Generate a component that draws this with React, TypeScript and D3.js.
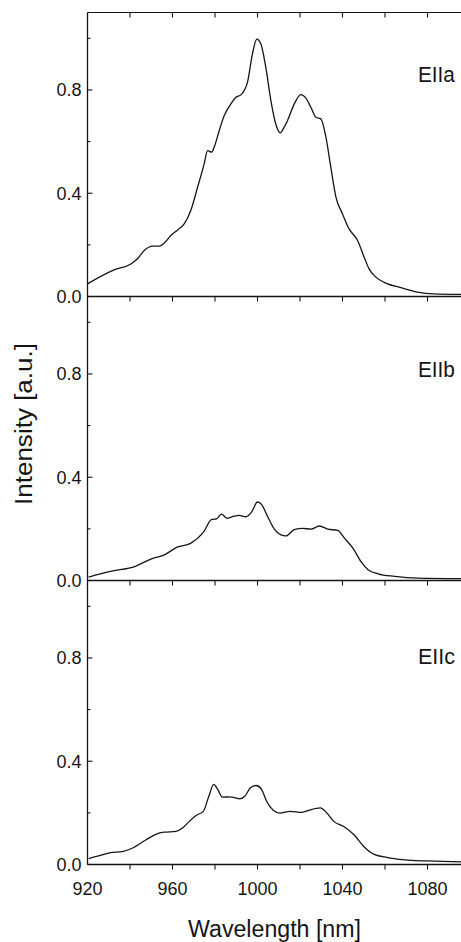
import React from "react";
import * as d3 from "d3";

const xTickValues = [920, 960, 1000, 1040, 1080];
const xMinorTicks = [940, 960, 980, 1000, 1020, 1040, 1060, 1080];
const yTickValues = [0.0, 0.4, 0.8];
const yMinorTicks = [0.2, 0.6, 1.0];
const panelLabels = ["EIIa", "EIIb", "EIIc"];

const seriesA: [number, number][] = [
  [920, 0.049], [932.5, 0.103], [940.4, 0.126], [943.5, 0.146], [946.7, 0.178],
  [950.6, 0.195], [953.7, 0.195], [956, 0.206], [959.2, 0.236], [962.4, 0.258],
  [965.5, 0.281], [968.6, 0.333], [971.8, 0.423], [974.9, 0.514], [976.5, 0.565],
  [978.4, 0.559], [979.6, 0.578], [982, 0.643], [984.3, 0.70], [987.5, 0.746],
  [989.8, 0.772], [992.2, 0.781], [995.3, 0.83], [997.6, 0.939], [999.7, 0.997],
  [1001.6, 0.978], [1003.9, 0.888], [1006.3, 0.759], [1008.6, 0.668], [1010.7, 0.634],
  [1012.5, 0.655], [1014.1, 0.681], [1017.3, 0.746], [1020.4, 0.782], [1022.7, 0.769],
  [1025.1, 0.733], [1027.5, 0.694], [1029.8, 0.688], [1032.2, 0.617], [1034.5, 0.501],
  [1036.9, 0.385], [1040, 0.32], [1043.1, 0.262], [1047.1, 0.217], [1050.2, 0.152],
  [1052.5, 0.107], [1055.7, 0.075], [1059.6, 0.055], [1067.5, 0.034], [1075.3, 0.017],
  [1083.1, 0.01], [1096, 0.008],
];

const seriesB: [number, number][] = [
  [920.5, 0.013], [930.7, 0.035], [942.5, 0.055], [950.4, 0.085], [955.9, 0.098],
  [962.2, 0.129], [968.5, 0.144], [974.8, 0.19], [978.3, 0.236], [980.8, 0.239],
  [983, 0.257], [985.8, 0.241], [989, 0.249], [991.3, 0.252], [994.5, 0.247],
  [997.2, 0.265], [1000, 0.304], [1001.9, 0.295], [1004.7, 0.249], [1007.9, 0.199],
  [1011, 0.177], [1013.4, 0.173], [1017.3, 0.197], [1021.3, 0.202], [1025.2, 0.199],
  [1029.1, 0.211], [1033.1, 0.199], [1037.8, 0.194], [1040.9, 0.164], [1044.9, 0.125],
  [1048.8, 0.072], [1052, 0.042], [1056.7, 0.026], [1064.6, 0.016], [1075.6, 0.009],
  [1096.5, 0.007],
];

const seriesC: [number, number][] = [
  [920.5, 0.023], [925.2, 0.033], [930.8, 0.046], [936.3, 0.05], [941, 0.063],
  [947.4, 0.095], [952.1, 0.117], [956, 0.125], [961.6, 0.128], [964.7, 0.141],
  [967.9, 0.167], [971.1, 0.19], [974.5, 0.206], [977.1, 0.264], [979.4, 0.31],
  [981.3, 0.291], [983.4, 0.261], [986.9, 0.262], [989.2, 0.259], [991.6, 0.254],
  [994, 0.264], [996.7, 0.297], [999.5, 0.306], [1001.9, 0.291], [1004.3, 0.245],
  [1007.4, 0.21], [1010.6, 0.199], [1015.3, 0.206], [1020.9, 0.202], [1024.8, 0.212],
  [1029.6, 0.219], [1032.7, 0.199], [1035.9, 0.167], [1040.6, 0.147], [1045.4, 0.115],
  [1050.1, 0.069], [1054.9, 0.039], [1061.2, 0.027], [1070.7, 0.017], [1083.3, 0.013],
  [1096.4, 0.01],
];

const allSeries = [seriesA, seriesB, seriesC];

const W = 461;
const H = 942;
const left = 87.5;
const panelH = 284;
const firstTop = 12.5;
const ink = "#151515";
const font = "'Liberation Sans', Arial, Helvetica, sans-serif";

export default function App() {
  const x = d3.scaleLinear().domain([920, 1096]).range([left, left + 374]);
  const panels = allSeries.map((data, i) => {
    const top = firstTop + i * panelH;
    const bottom = top + panelH;
    const y = d3.scaleLinear().domain([0, 1.1]).range([bottom, top]);
    const line = d3
      .line<[number, number]>()
      .x((d) => x(d[0]))
      .y((d) => y(d[1]))
      .curve(d3.curveMonotoneX);
    return { data, top, bottom, y, line, label: panelLabels[i] };
  });
  const lastBottom = panels[2].bottom;

  return (
    <svg
      width={W}
      height={H}
      style={{ position: "absolute", left: 0, top: 0, background: "#fff" }}
      fontFamily={font}
    >
      <defs>
        <clipPath id="plotclip">
          <rect x={left} y={0} width={W - left} height={H} />
        </clipPath>
      </defs>
      <rect x={0} y={0} width={W} height={H} fill="#fff" />
      {/* top border */}
      <line x1={left} x2={W} y1={firstTop} y2={firstTop} stroke={ink} strokeWidth={1.2} />
      {xMinorTicks.map((t) => (
        <line key={"tt" + t} x1={x(t)} x2={x(t)} y1={firstTop} y2={firstTop + 5} stroke={ink} strokeWidth={1.1} />
      ))}
      {panels.map((p, i) => (
        <g key={i}>
          {/* baseline */}
          <line x1={left} x2={W} y1={p.bottom} y2={p.bottom} stroke={ink} strokeWidth={1.3} />
          {xMinorTicks.map((t) => (
            <line key={"bt" + t} x1={x(t)} x2={x(t)} y1={p.bottom} y2={p.bottom + 5} stroke={ink} strokeWidth={1.1} />
          ))}
          {yTickValues.map((t) => (
            <g key={"yt" + t}>
              <line x1={left} x2={left + 5} y1={p.y(t)} y2={p.y(t)} stroke={ink} strokeWidth={1.1} />
              <text x={left - 6} y={p.y(t) + 6.5} textAnchor="end" fontSize={18} fill={ink}>
                {t.toFixed(1)}
              </text>
            </g>
          ))}
          {yMinorTicks.map((t) => (
            <line key={"ym" + t} x1={left} x2={left + 3} y1={p.y(t)} y2={p.y(t)} stroke={ink} strokeWidth={1.1} />
          ))}
          <path d={p.line(p.data) || ""} fill="none" stroke={ink} strokeWidth={1.3} clipPath="url(#plotclip)" />
          <text
            x={x(1075.5)}
            y={p.top + [69.5, 80.5, 83.5][i]}
            fontSize={22}
            fill={ink}
            textLength={37}
            lengthAdjust="spacingAndGlyphs"
          >
            {p.label}
          </text>
        </g>
      ))}
      {/* left axis */}
      <line x1={left} x2={left} y1={firstTop} y2={lastBottom} stroke={ink} strokeWidth={1.3} />
      {xTickValues.map((t) => (
        <text key={"xl" + t} x={x(t)} y={lastBottom + 30.5} textAnchor="middle" fontSize={18} fill={ink}>
          {t}
        </text>
      ))}
      <text
        x={x(1008)}
        y={936.5}
        textAnchor="middle"
        fontSize={23}
        fill={ink}
        textLength={173}
        lengthAdjust="spacingAndGlyphs"
      >
        Wavelength [nm]
      </text>
      <text
        transform={`translate(31.5,424) rotate(-90)`}
        textAnchor="middle"
        fontSize={23}
        fill={ink}
        textLength={162}
        lengthAdjust="spacingAndGlyphs"
      >
        Intensity [a.u.]
      </text>
    </svg>
  );
}
